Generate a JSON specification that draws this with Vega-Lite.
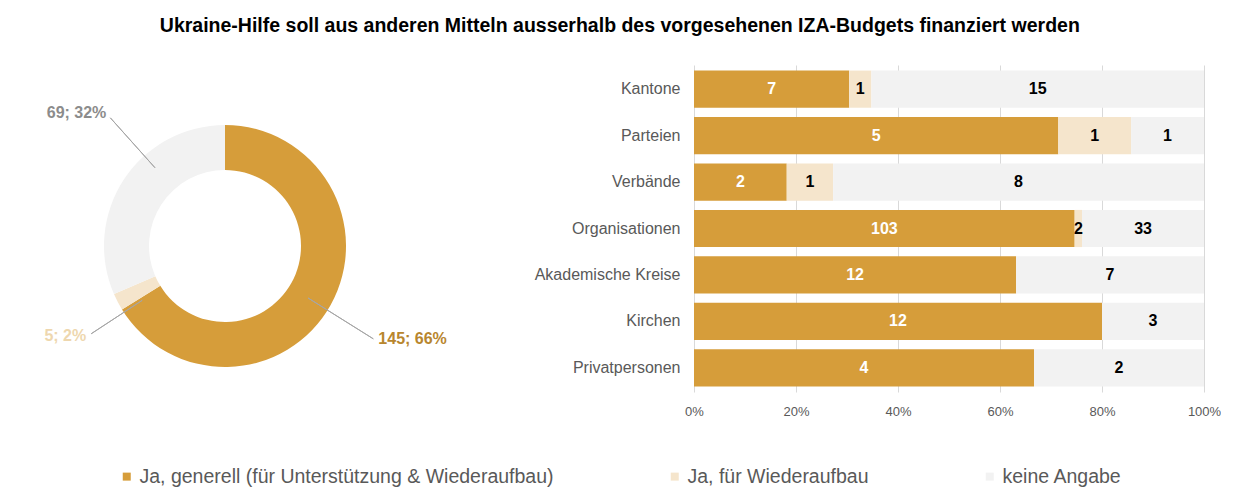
{
  "$schema": "https://vega.github.io/schema/vega-lite/v6.json",
  "padding": {"left": 5, "top": 15, "right": 0, "bottom": 0},
  "background": "white",
  "config": {"view": {"stroke": null}, "font": "Liberation Sans"},
  "title": {
    "text": "Ukraine-Hilfe soll aus anderen Mitteln ausserhalb des vorgesehenen IZA-Budgets finanziert werden",
    "fontSize": 19.5,
    "font": "Liberation Sans",
    "fontWeight": "bold",
    "color": "#000000",
    "anchor": "middle",
    "dx": 7,
    "offset": 29
  },
  "datasets": {
    "gesamt": [
      {"c": "Ja, generell (für Unterstützung & Wiederaufbau)", "k": 1, "n": 145, "label": "145; 66%"},
      {"c": "Ja, für Wiederaufbau", "k": 2, "n": 5, "label": "5; 2%"},
      {"c": "keine Angabe", "k": 3, "n": 69, "label": "69; 32%"}
    ],
    "gruppen": [
      {"g": "Kantone", "c": "Ja, generell (für Unterstützung & Wiederaufbau)", "k": 1, "n": 7},
      {"g": "Kantone", "c": "Ja, für Wiederaufbau", "k": 2, "n": 1},
      {"g": "Kantone", "c": "keine Angabe", "k": 3, "n": 15},
      {"g": "Parteien", "c": "Ja, generell (für Unterstützung & Wiederaufbau)", "k": 1, "n": 5},
      {"g": "Parteien", "c": "Ja, für Wiederaufbau", "k": 2, "n": 1},
      {"g": "Parteien", "c": "keine Angabe", "k": 3, "n": 1},
      {"g": "Verbände", "c": "Ja, generell (für Unterstützung & Wiederaufbau)", "k": 1, "n": 2},
      {"g": "Verbände", "c": "Ja, für Wiederaufbau", "k": 2, "n": 1},
      {"g": "Verbände", "c": "keine Angabe", "k": 3, "n": 8},
      {"g": "Organisationen", "c": "Ja, generell (für Unterstützung & Wiederaufbau)", "k": 1, "n": 103},
      {"g": "Organisationen", "c": "Ja, für Wiederaufbau", "k": 2, "n": 2},
      {"g": "Organisationen", "c": "keine Angabe", "k": 3, "n": 33},
      {"g": "Akademische Kreise", "c": "Ja, generell (für Unterstützung & Wiederaufbau)", "k": 1, "n": 12},
      {"g": "Akademische Kreise", "c": "Ja, für Wiederaufbau", "k": 2, "n": 0},
      {"g": "Akademische Kreise", "c": "keine Angabe", "k": 3, "n": 7},
      {"g": "Kirchen", "c": "Ja, generell (für Unterstützung & Wiederaufbau)", "k": 1, "n": 12},
      {"g": "Kirchen", "c": "Ja, für Wiederaufbau", "k": 2, "n": 0},
      {"g": "Kirchen", "c": "keine Angabe", "k": 3, "n": 3},
      {"g": "Privatpersonen", "c": "Ja, generell (für Unterstützung & Wiederaufbau)", "k": 1, "n": 4},
      {"g": "Privatpersonen", "c": "Ja, für Wiederaufbau", "k": 2, "n": 0},
      {"g": "Privatpersonen", "c": "keine Angabe", "k": 3, "n": 2}
    ]
  },
  "spacing": 87,
  "hconcat": [
    {
      "width": 440,
      "height": 362,
      "data": {"name": "gesamt"},
      "transform": [
        {"stack": "n", "groupby": [], "sort": [{"field": "k", "order": "ascending"}], "as": ["lo", "hi"]}
      ],
      "layer": [
        {
          "mark": {"type": "arc", "innerRadius": 76, "outerRadius": 121},
          "encoding": {
            "theta": {"field": "lo", "type": "quantitative", "scale": {"domain": [0, 219], "nice": false, "zero": true}},
            "theta2": {"field": "hi"},
            "color": {
              "field": "c",
              "type": "nominal",
              "scale": {
                "domain": ["Ja, generell (für Unterstützung & Wiederaufbau)", "Ja, für Wiederaufbau", "keine Angabe"],
                "range": ["#D69D3A", "#F5E5CC", "#F2F2F2"]
              },
              "legend": {
                "orient": "none", "legendX": 112, "legendY": 401.5, "direction": "horizontal", "title": null,
                "symbolType": "square", "symbolSize": 64, "symbolStrokeWidth": 0,
                "labelFontSize": 19.5, "labelColor": "#595959", "labelFont": "Liberation Sans",
                "labelLimit": 600, "columnPadding": 111, "labelOffset": 3, "padding": 0
              }
            }
          }
        },
        {
          "transform": [
            {"fold": ["lo", "hi"], "as": ["edge", "pos"]},
            {"aggregate": [{"op": "mean", "field": "pos", "as": "mid"}], "groupby": ["c", "k", "n", "label"]},
            {"filter": "datum.k == 1"}
          ],
          "layer": [
            {
              "mark": {"type": "arc", "innerRadius": 98, "outerRadius": 175, "thetaOffset": 0.05, "theta2Offset": 0.05, "filled": false, "stroke": "#A6A6A6", "strokeWidth": 1},
              "encoding": {"theta": {"field": "mid", "type": "quantitative"}, "theta2": {"field": "mid"}}
            },
            {
              "mark": {"type": "text", "radius": 175, "thetaOffset": 0.05, "align": "left", "baseline": "middle", "dx": 5, "dy": 0, "fontSize": 16, "fontWeight": "bold", "color": "#B8862E", "font": "Liberation Sans"},
              "encoding": {"theta": {"field": "mid", "type": "quantitative"}, "text": {"field": "label"}}
            }
          ]
        },
        {
          "transform": [
            {"fold": ["lo", "hi"], "as": ["edge", "pos"]},
            {"aggregate": [{"op": "mean", "field": "pos", "as": "mid"}], "groupby": ["c", "k", "n", "label"]},
            {"filter": "datum.k == 2"}
          ],
          "layer": [
            {
              "mark": {"type": "arc", "innerRadius": 99, "outerRadius": 160, "thetaOffset": -0.1, "theta2Offset": -0.1, "filled": false, "stroke": "#A6A6A6", "strokeWidth": 1},
              "encoding": {"theta": {"field": "mid", "type": "quantitative"}, "theta2": {"field": "mid"}}
            },
            {
              "mark": {"type": "text", "radius": 160, "thetaOffset": -0.1, "align": "right", "baseline": "middle", "dx": -5, "dy": 2, "fontSize": 16, "fontWeight": "bold", "color": "#EED7AE", "font": "Liberation Sans"},
              "encoding": {"theta": {"field": "mid", "type": "quantitative"}, "text": {"field": "label"}}
            }
          ]
        },
        {
          "transform": [
            {"fold": ["lo", "hi"], "as": ["edge", "pos"]},
            {"aggregate": [{"op": "mean", "field": "pos", "as": "mid"}], "groupby": ["c", "k", "n", "label"]},
            {"filter": "datum.k == 3"}
          ],
          "layer": [
            {
              "mark": {"type": "arc", "innerRadius": 105, "outerRadius": 172, "thetaOffset": 0.26, "theta2Offset": 0.26, "filled": false, "stroke": "#A6A6A6", "strokeWidth": 1},
              "encoding": {"theta": {"field": "mid", "type": "quantitative"}, "theta2": {"field": "mid"}}
            },
            {
              "mark": {"type": "text", "radius": 172, "thetaOffset": 0.26, "align": "right", "baseline": "middle", "dx": -4, "dy": -5, "fontSize": 16, "fontWeight": "bold", "color": "#8C8C8C", "font": "Liberation Sans"},
              "encoding": {"theta": {"field": "mid", "type": "quantitative"}, "text": {"field": "label"}}
            }
          ]
        }
      ]
    },
    {
      "width": 510,
      "height": 327,
      "data": {"name": "gruppen"},
      "transform": [
        {"stack": "n", "groupby": ["g"], "sort": [{"field": "k", "order": "ascending"}], "offset": "normalize", "as": ["lo", "hi"]}
      ],
      "encoding": {
        "y": {
          "field": "g",
          "type": "nominal",
          "title": null,
          "sort": ["Kantone", "Parteien", "Verbände", "Organisationen", "Akademische Kreise", "Kirchen", "Privatpersonen"],
          "scale": {"paddingInner": 0.2, "paddingOuter": 0.12},
          "axis": {
            "domain": false, "ticks": false, "grid": false,
            "labelFontSize": 16, "labelColor": "#595959", "labelFont": "Liberation Sans",
            "labelPadding": 14, "minExtent": 160, "maxExtent": 160
          }
        }
      },
      "layer": [
        {
          "mark": {"type": "bar"},
          "encoding": {
            "x": {
              "field": "lo", "type": "quantitative", "title": null,
              "scale": {"domain": [0, 1], "nice": false},
              "axis": {
                "values": [0, 0.2, 0.4, 0.6, 0.8, 1], "format": ".0%", "labelFlush": false,
                "grid": true, "gridColor": "#D9D9D9", "domain": false, "ticks": false,
                "labelFontSize": 13, "labelColor": "#595959", "labelFont": "Liberation Sans", "labelPadding": 13
              }
            },
            "x2": {"field": "hi"},
            "color": {
              "field": "c",
              "type": "nominal",
              "scale": {
                "domain": ["Ja, generell (für Unterstützung & Wiederaufbau)", "Ja, für Wiederaufbau", "keine Angabe"],
                "range": ["#D69D3A", "#F5E5CC", "#F2F2F2"]
              },
              "legend": {
                "orient": "none", "legendX": 112, "legendY": 401.5, "direction": "horizontal", "title": null,
                "symbolType": "square", "symbolSize": 64, "symbolStrokeWidth": 0,
                "labelFontSize": 19.5, "labelColor": "#595959", "labelFont": "Liberation Sans",
                "labelLimit": 600, "columnPadding": 111, "labelOffset": 3, "padding": 0
              }
            }
          }
        },
        {
          "transform": [
            {"filter": "datum.n > 0 && datum.k == 1"},
            {"fold": ["lo", "hi"], "as": ["edge", "pos"]},
            {"aggregate": [{"op": "mean", "field": "pos", "as": "mid"}], "groupby": ["g", "c", "k", "n"]}
          ],
          "mark": {"type": "text", "color": "#FFFFFF", "fontSize": 16, "fontWeight": "bold", "font": "Liberation Sans", "baseline": "middle"},
          "encoding": {
            "x": {"field": "mid", "type": "quantitative", "title": null},
            "text": {"field": "n", "type": "quantitative"}
          }
        },
        {
          "transform": [
            {"filter": "datum.n > 0 && datum.k > 1"},
            {"fold": ["lo", "hi"], "as": ["edge", "pos"]},
            {"aggregate": [{"op": "mean", "field": "pos", "as": "mid"}], "groupby": ["g", "c", "k", "n"]}
          ],
          "mark": {"type": "text", "color": "#000000", "fontSize": 16, "fontWeight": "bold", "font": "Liberation Sans", "baseline": "middle"},
          "encoding": {
            "x": {"field": "mid", "type": "quantitative", "title": null},
            "text": {"field": "n", "type": "quantitative"}
          }
        }
      ]
    }
  ]
}
